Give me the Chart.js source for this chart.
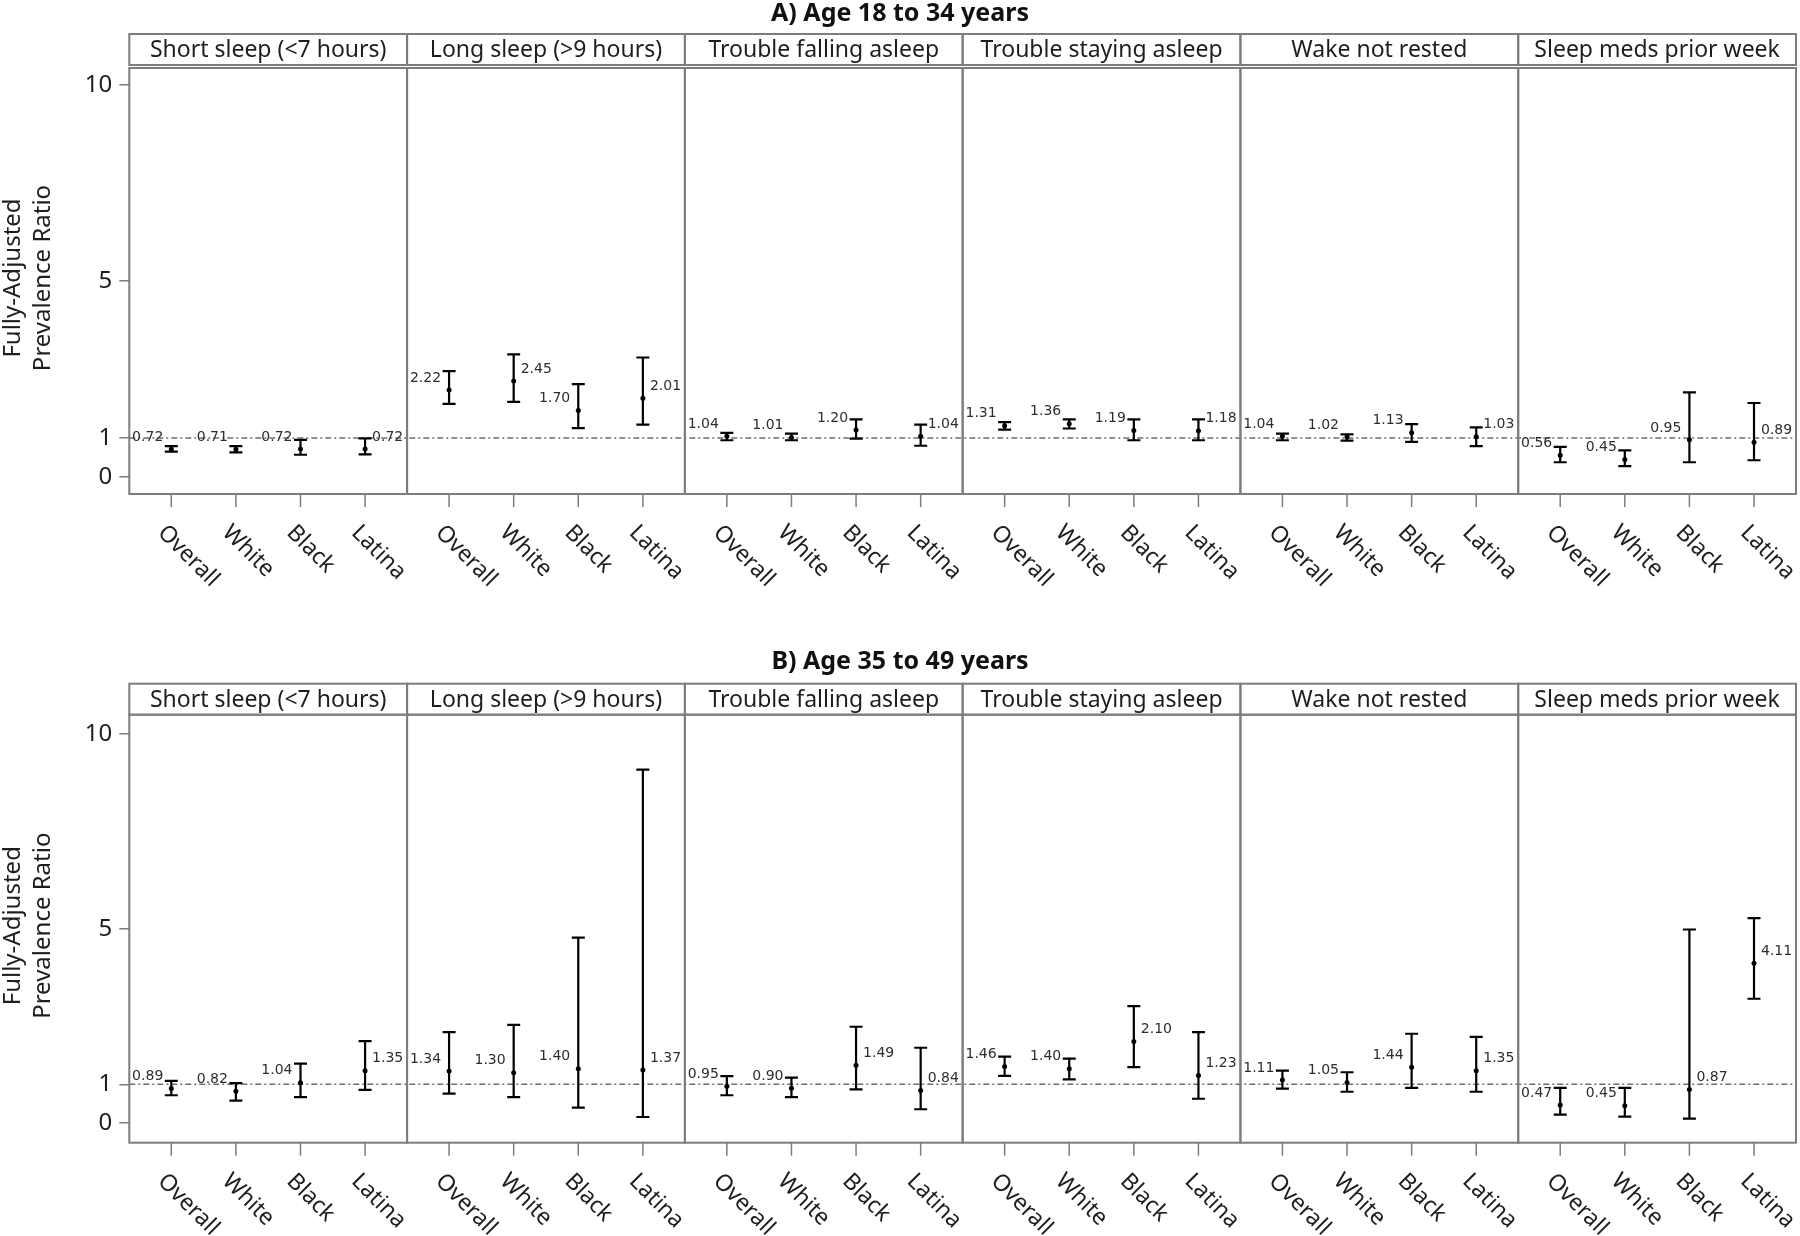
<!DOCTYPE html>
<html>
<head>
<meta charset="utf-8">
<script src="https://cdn.jsdelivr.net/npm/chart.js@4.4.1/dist/chart.umd.min.js"></script>
<style>
  html, body { margin: 0; padding: 0; background: #fff; }
  #wrap { position: relative; width: 1800px; height: 1236px; }
  .row { position: absolute; left: 0; width: 1800px; height: 618px; }
</style>
</head>
<body>
<div id="wrap">
  <div class="row" style="top:0"><canvas id="chartA" width="1800" height="618"></canvas></div>
  <div class="row" style="top:618px"><canvas id="chartB" width="1800" height="618"></canvas></div>
</div>
<script>
// categories
const outcomes = ['Short sleep (<7 hours)', 'Long sleep (>9 hours)', 'Trouble falling asleep',
                  'Trouble staying asleep', 'Wake not rested', 'Sleep meds prior week'];
const groups = ['Overall', 'White', 'Black', 'Latina'];
const yTickValues = [0, 1, 5, 10];

// A) Age 18 to 34 years : prevalence ratio, lower / upper CI (one row per outcome)
const estA  = [[0.72, 0.71, 0.72, 0.72], [2.22, 2.45, 1.70, 2.01], [1.04, 1.01, 1.20, 1.04],
               [1.31, 1.36, 1.19, 1.18], [1.04, 1.02, 1.13, 1.03], [0.56, 0.45, 0.95, 0.89]];
const lowA  = [[0.65, 0.63, 0.57, 0.58], [1.87, 1.92, 1.25, 1.34], [0.94, 0.94, 0.98, 0.80],
               [1.21, 1.24, 0.94, 0.94], [0.94, 0.93, 0.90, 0.79], [0.38, 0.28, 0.38, 0.43]];
const highA = [[0.79, 0.79, 0.95, 0.99], [2.70, 3.13, 2.37, 3.05], [1.13, 1.11, 1.47, 1.34],
               [1.40, 1.47, 1.47, 1.47], [1.11, 1.09, 1.35, 1.27], [0.77, 0.68, 2.16, 1.89]];
const sideA = [['L', 'L', 'L', 'R'], ['L', 'R', 'L', 'R'], ['L', 'L', 'L', 'R'],
               ['L', 'L', 'L', 'R'], ['L', 'L', 'L', 'R'], ['L', 'L', 'L', 'R']];

// B) Age 35 to 49 years
const estB  = [[0.89, 0.82, 1.04, 1.35], [1.34, 1.30, 1.40, 1.37], [0.95, 0.90, 1.49, 0.84],
               [1.46, 1.40, 2.10, 1.23], [1.11, 1.05, 1.44, 1.35], [0.47, 0.45, 0.87, 4.11]];
const lowB  = [[0.72, 0.58, 0.67, 0.86], [0.76, 0.67, 0.40, 0.16], [0.72, 0.67, 0.87, 0.36],
               [1.22, 1.13, 1.44, 0.63], [0.89, 0.81, 0.91, 0.81], [0.22, 0.17, 0.12, 3.20]];
const highB = [[1.09, 1.03, 1.53, 2.11], [2.34, 2.53, 4.77, 9.09], [1.21, 1.17, 2.48, 1.94],
               [1.71, 1.66, 3.01, 2.34], [1.35, 1.31, 2.30, 2.22], [0.91, 0.91, 4.98, 5.27]];
const sideB = [['L', 'L', 'L', 'R'], ['L', 'L', 'L', 'R'], ['L', 'L', 'R', 'R'],
               ['L', 'L', 'R', 'R'], ['L', 'L', 'L', 'R'], ['L', 'L', 'R', 'R']];

// panel geometry in x units (one unit = distance between two groups)
const panelW = 4.3, firstOff = 0.65;
const xPos = (p, i) => p * panelW + firstOff + i;

const GRAY = '#7d7d7d';
const FONT = 'Noto Sans';
Chart.defaults.font.family = FONT;

const facetPlugin = {
  id: 'facet',
  beforeDatasetsDraw(chart, args, o) {
    const { ctx, chartArea: a, scales: { x, y } } = chart;
    ctx.save();
    // reference line at PR = 1
    const y1 = y.getPixelForValue(1);
    ctx.strokeStyle = '#6f6f6f';
    ctx.lineWidth = 1.5;
    ctx.setLineDash([6, 3, 2, 3]);
    ctx.beginPath(); ctx.moveTo(a.left, y1); ctx.lineTo(a.right, y1); ctx.stroke();
    ctx.setLineDash([]);
    // confidence intervals
    ctx.strokeStyle = '#000';
    ctx.lineWidth = 2.2;
    outcomes.forEach((_, p) => groups.forEach((_, i) => {
      const px = x.getPixelForValue(xPos(p, i));
      const lo = y.getPixelForValue(o.low[p][i]);
      const hi = y.getPixelForValue(o.high[p][i]);
      ctx.beginPath();
      ctx.moveTo(px, lo); ctx.lineTo(px, hi);
      ctx.moveTo(px - 6.5, lo); ctx.lineTo(px + 6.5, lo);
      ctx.moveTo(px - 6.5, hi); ctx.lineTo(px + 6.5, hi);
      ctx.stroke();
    }));
    ctx.restore();
  },
  afterDatasetsDraw(chart, args, o) {
    const { ctx, chartArea: a, scales: { x, y } } = chart;
    ctx.save();
    // value labels
    ctx.font = '14px "DejaVu Sans"';
    ctx.fillStyle = '#2e2e2e';
    ctx.textBaseline = 'middle';
    outcomes.forEach((_, p) => groups.forEach((_, i) => {
      const px = x.getPixelForValue(xPos(p, i));
      const py = y.getPixelForValue(o.est[p][i]);
      const txt = o.est[p][i].toFixed(2);
      if (o.side[p][i] === 'L') { ctx.textAlign = 'right'; ctx.fillText(txt, px - 8, py - 12); }
      else { ctx.textAlign = 'left'; ctx.fillText(txt, px + 7, py - 12); }
    }));

    // panel frames and strip headers
    ctx.strokeStyle = GRAY;
    ctx.lineWidth = 2;
    const stripBottom = a.top - o.gap, stripTop = stripBottom - 31;
    outcomes.forEach((name, p) => {
      const l = x.getPixelForValue(p * panelW), r = x.getPixelForValue((p + 1) * panelW);
      ctx.strokeRect(l, a.top, r - l, a.bottom - a.top);
      ctx.strokeRect(l, stripTop, r - l, stripBottom - stripTop);
      ctx.fillStyle = '#1e1e1e';
      ctx.font = '23px "' + FONT + '"';
      ctx.textAlign = 'center';
      ctx.textBaseline = 'middle';
      ctx.fillText(name, (l + r) / 2, (stripTop + stripBottom) / 2 + 1);
    });

    // x ticks and rotated group labels
    ctx.lineWidth = 1.5;
    ctx.font = '23px "' + FONT + '"';
    ctx.fillStyle = '#1e1e1e';
    outcomes.forEach((_, p) => groups.forEach((g, i) => {
      const px = x.getPixelForValue(xPos(p, i));
      ctx.beginPath(); ctx.moveTo(px, a.bottom); ctx.lineTo(px, a.bottom + 13); ctx.stroke();
      ctx.save();
      ctx.translate(px - 10, a.bottom + 35);
      ctx.rotate(Math.PI / 4);
      ctx.textAlign = 'left';
      ctx.textBaseline = 'middle';
      ctx.fillText(g, 0, 0);
      ctx.restore();
    }));

    // panel title
    ctx.font = 'bold 25px "' + FONT + '"';
    ctx.textAlign = 'center';
    ctx.textBaseline = 'middle';
    ctx.fillStyle = '#111';
    ctx.fillText(o.title, chart.width / 2, o.titleY);

    // y axis title
    ctx.font = '24px "' + FONT + '"';
    ctx.fillStyle = '#1e1e1e';
    const cy = (a.top + a.bottom) / 2 - 3;
    [['Fully-Adjusted', 13], ['Prevalence Ratio', 43]].forEach(([t, tx]) => {
      ctx.save();
      ctx.translate(tx, cy);
      ctx.rotate(-Math.PI / 2);
      ctx.fillText(t, 0, 0);
      ctx.restore();
    });
    ctx.restore();
  }
};

function makeRow(id, title, est, low, high, side, cfg) {
  const points = [];
  outcomes.forEach((_, p) => groups.forEach((_, i) => points.push({ x: xPos(p, i), y: est[p][i] })));
  return new Chart(document.getElementById(id), {
    type: 'scatter',
    data: { datasets: [{ data: points, pointRadius: 2.5, pointBackgroundColor: '#000', pointBorderWidth: 0 }] },
    options: {
      responsive: false,
      animation: false,
      devicePixelRatio: 1,
      layout: { padding: { top: cfg.top, bottom: cfg.bottom, left: 0, right: 2 } },
      scales: {
        x: { type: 'linear', display: false, min: 0, max: panelW * outcomes.length },
        y: {
          min: cfg.min, max: cfg.max,
          afterBuildTicks: s => { s.ticks = yTickValues.map(v => ({ value: v })); },
          afterFit: s => { s.width = 129.3; },
          grid: { drawOnChartArea: false, tickLength: 10, color: GRAY, lineWidth: 1.5 },
          border: { display: false },
          ticks: { font: { size: 24 }, color: '#1e1e1e', padding: 7, autoSkip: false }
        }
      },
      plugins: {
        legend: { display: false },
        tooltip: { enabled: false },
        facet: { title, est, low, high, side, gap: cfg.gap, titleY: cfg.titleY }
      }
    },
    plugins: [facetPlugin]
  });
}

makeRow('chartA', 'A) Age 18 to 34 years', estA, lowA, highA, sideA,
  { top: 68, bottom: 124, min: -0.43, max: 10.43, gap: 3, titleY: 14 });
makeRow('chartB', 'B) Age 35 to 49 years', estB, lowB, highB, sideB,
  { top: 96.7, bottom: 93.3, min: -0.5, max: 10.5, gap: 0, titleY: 44 });
</script>
</body>
</html>
